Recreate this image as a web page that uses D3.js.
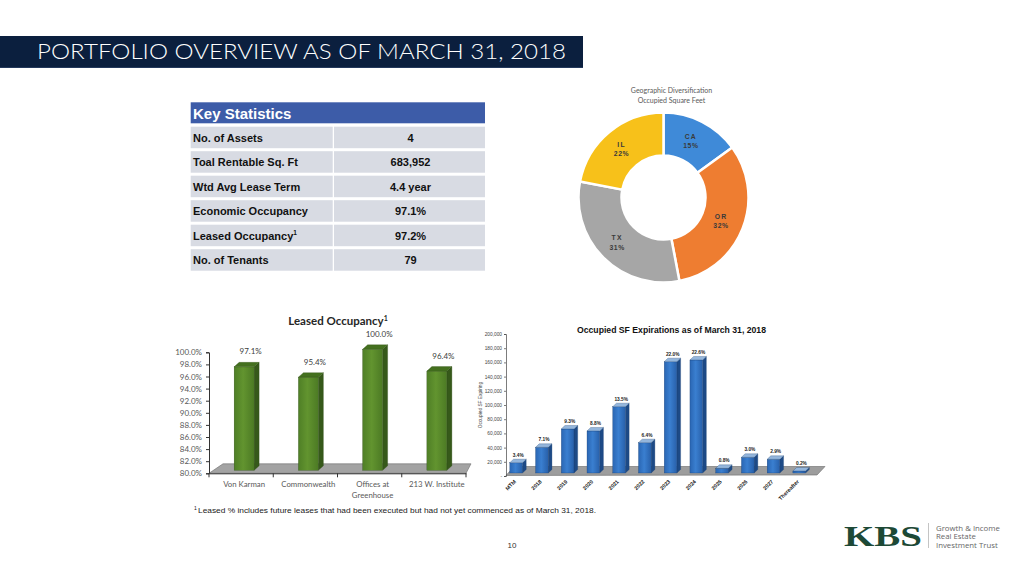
<!DOCTYPE html>
<html><head><meta charset="utf-8">
<script src="https://cdn.jsdelivr.net/npm/d3@7"></script>
<style>body{margin:0;background:#fff}svg{display:block}</style>
</head><body>
<svg id="c" width="1024" height="567"></svg>
<script>
// ---------- DATA ----------
const pageTitle = "PORTFOLIO OVERVIEW AS OF MARCH 31, 2018";
const statLabels = ["No. of Assets", "Toal Rentable Sq. Ft", "Wtd Avg Lease Term", "Economic Occupancy", "Leased Occupancy", "No. of Tenants"];
const statValues = ["4", "683,952", "4.4 year", "97.1%", "97.2%", "79"];
const geoStates = ["CA", "OR", "TX", "IL"];
const geoShares = [15, 32, 31, 22];
const geoColors = ["#3f8ad8", "#ee7d31", "#a6a6a6", "#f7c11a"];
const propNames = ["Von Karman", "Commonwealth", "Offices at Greenhouse", "213 W. Institute"];
const propLines = [["Von Karman"], ["Commonwealth"], ["Offices at", "Greenhouse"], ["213 W. Institute"]];
const leasedPct = [97.1, 95.4, 100.0, 96.4];
const leasedTicks = [80, 82, 84, 86, 88, 90, 92, 94, 96, 98, 100];
const expYears = ["MTM", "2018", "2019", "2020", "2021", "2022", "2023", "2024", "2025", "2026", "2027", "Thereafter"];
const expSF = [14500, 36200, 62000, 59200, 93400, 42700, 156800, 159200, 6600, 22100, 19300, 2800];
const expPctLabels = ["3.4%", "7.1%", "9.3%", "8.8%", "13.5%", "6.4%", "22.0%", "22.6%", "0.8%", "3.0%", "2.9%", "0.2%"];
const expTicks = [0, 20000, 40000, 60000, 80000, 100000, 120000, 140000, 160000, 180000, 200000];

// ---------- SETUP ----------
const svg = d3.select("#c");
svg.append("rect").attr("width", 1024).attr("height", 567).attr("fill", "#fff");
const defs = svg.append("defs");
function hgrad(id, stops) {
  const g = defs.append("linearGradient").attr("id", id).attr("x1", 0).attr("x2", 1).attr("y1", 0).attr("y2", 0);
  stops.forEach(s => g.append("stop").attr("offset", s[0]).attr("stop-color", s[1]));
}
hgrad("gGreen", [[0, "#4f7f26"], [0.45, "#62942f"], [1, "#4c7a24"]]);
hgrad("gBlue", [[0, "#2a66b3"], [0.45, "#3a7fd0"], [1, "#2860aa"]]);

// ---------- HEADER ----------
svg.append("rect").attr("x", 0).attr("y", 36).attr("width", 583).attr("height", 32).attr("fill", "#0b1f3e");
svg.append("line").attr("x1", 0).attr("x2", 583).attr("y1", 67.5).attr("y2", 67.5).attr("stroke", "#24395c").attr("stroke-width", 1);
svg.append("text").attr("x", 37).attr("y", 59.3).text(pageTitle)
  .attr("fill", "#fff").attr("font-family", "Lato, 'Open Sans', sans-serif").attr("font-weight", 300)
  .attr("font-size", 21).attr("textLength", 529).attr("lengthAdjust", "spacingAndGlyphs");

// ---------- KEY STATISTICS TABLE ----------
const tX = 190.7, tW1 = 142, tX2 = 334, tW2 = 151;
svg.append("rect").attr("x", tX).attr("y", 102.3).attr("width", 294.3).attr("height", 21).attr("fill", "#3d5ca8");
svg.append("text").attr("x", 193).attr("y", 119.4).text("Key Statistics")
  .attr("fill", "#fff").attr("font-family", "'Liberation Sans', Arial, sans-serif").attr("font-weight", "bold").attr("font-size", 15);
const rowY = d3.scaleLinear().domain([0, 1]).range([126.7, 151.2]);
const rows = svg.append("g").selectAll("g").data(statLabels).join("g");
rows.append("rect").attr("x", tX).attr("y", (d, i) => rowY(i)).attr("width", tW1).attr("height", 21.5).attr("fill", "#d8dbe3");
rows.append("rect").attr("x", tX2).attr("y", (d, i) => rowY(i)).attr("width", tW2).attr("height", 21.5).attr("fill", "#d8dbe3");
rows.append("text").attr("x", 193).attr("y", (d, i) => rowY(i) + 15)
  .attr("font-family", "'Liberation Sans', Arial, sans-serif").attr("font-weight", "bold").attr("font-size", 11).attr("fill", "#111")
  .each(function (d, i) {
    const t = d3.select(this);
    t.append("tspan").text(d);
    if (i === 4) t.append("tspan").text("1").attr("font-size", 6.5).attr("dy", -5);
  });
rows.append("text").attr("x", 410.5).attr("y", (d, i) => rowY(i) + 15).text((d, i) => statValues[i])
  .attr("text-anchor", "middle")
  .attr("font-family", "'Liberation Sans', Arial, sans-serif").attr("font-weight", "bold").attr("font-size", 11).attr("fill", "#111");

// ---------- DONUT ----------
const dcx = 663.5, dcy = 197.5;
const dg = svg.append("g").attr("transform", `translate(${dcx},${dcy})`);
svg.append("text").attr("x", 671.5).attr("y", 93).attr("text-anchor", "middle").text("Geographic Diversification")
  .attr("font-family", "Lato, sans-serif").attr("font-size", 7).attr("fill", "#595959");
svg.append("text").attr("x", 671.5).attr("y", 103).attr("text-anchor", "middle").text("Occupied Square Feet")
  .attr("font-family", "Lato, sans-serif").attr("font-size", 7).attr("fill", "#595959");
const pie = d3.pie().sort(null).value(d => d)(geoShares);
const arc = d3.arc().innerRadius(42).outerRadius(85);
dg.selectAll("path").data(pie).join("path").attr("d", arc)
  .attr("fill", (d, i) => geoColors[i]).attr("stroke", "#fff").attr("stroke-width", 2.5);
const lab = dg.selectAll("g.lab").data(pie).join("g").attr("class", "lab")
  .attr("transform", d => { const c = arc.centroid(d); return `translate(${c[0] - 1.5},${c[1] - 1})`; });
lab.append("text").attr("text-anchor", "middle").attr("y", -1).text((d, i) => geoStates[i])
  .attr("font-family", "'Liberation Sans', Arial, sans-serif").attr("font-weight", "bold").attr("font-size", 6.8)
  .attr("letter-spacing", 1.2).attr("fill", "#3a3a3a");
lab.append("text").attr("text-anchor", "middle").attr("y", 8.5).text(d => d.data + "%")
  .attr("font-family", "'Liberation Sans', Arial, sans-serif").attr("font-weight", "bold").attr("font-size", 6.8)
  .attr("letter-spacing", 0.6).attr("fill", "#3a3a3a");

// ---------- 3D bar helper ----------
function bar3d(g, x, yTop, yBot, w, dx, dy, front, side, top, stroke) {
  g.append("path").attr("d", `M${x + w},${yTop}L${x + w + dx},${yTop - dy}L${x + w + dx},${yBot - dy}L${x + w},${yBot}Z`)
    .attr("fill", side).attr("stroke", stroke).attr("stroke-width", 0.3);
  g.append("rect").attr("x", x).attr("y", yTop).attr("width", w).attr("height", Math.max(0.5, yBot - yTop))
    .attr("fill", front).attr("stroke", stroke).attr("stroke-width", 0.3);
  g.append("path").attr("d", `M${x},${yTop}L${x + dx},${yTop - dy}L${x + w + dx},${yTop - dy}L${x + w},${yTop}Z`)
    .attr("fill", top).attr("stroke", stroke).attr("stroke-width", 0.3);
}

// ---------- LEASED OCCUPANCY ----------
const lx = d3.scaleBand().domain(propNames).range([209, 466]);
const ly = d3.scaleLinear().domain([80, 100]).range([473.3, 352.3]);
const lg = svg.append("g");
lg.append("text").attr("x", 338).attr("y", 325).attr("text-anchor", "middle")
  .attr("font-family", "Lato, sans-serif").attr("font-weight", "bold").attr("font-size", 11.5).attr("fill", "#262626")
  .call(t => { t.append("tspan").text("Leased Occupancy"); t.append("tspan").text("1").attr("font-size", 7).attr("dy", -4.5); });
// floor
lg.append("path").attr("d", `M${lx.range()[0]},${ly(80)}L${lx.range()[1]},${ly(80)}L${lx.range()[1] + 5},${ly(80) - 9.5}L${lx.range()[0] + 14},${ly(80) - 9.5}Z`)
  .attr("fill", "#a3a3a3").attr("stroke", "#6d6d6d").attr("stroke-width", 0.6);
// y axis
const lAxis = lg.append("g").attr("transform", `translate(209,0)`)
  .call(d3.axisLeft(ly).tickValues(leasedTicks).tickFormat(d => d.toFixed(1) + "%").tickSize(3).tickPadding(4));
lAxis.select(".domain").attr("stroke", "#333");
lAxis.selectAll(".tick line").attr("stroke", "#333");
lAxis.selectAll("text").attr("font-family", "Lato, sans-serif").attr("font-size", 8).attr("fill", "#595959");
// x axis
const lxAxis = lg.append("g").attr("transform", `translate(0,${ly(80)})`)
  .call(d3.axisBottom(lx).tickSize(0).tickFormat(""));
lxAxis.select(".domain").attr("stroke", "#333");
lg.selectAll("line.div").data(d3.range(propNames.length + 1)).join("line").attr("class", "div")
  .attr("x1", i => lx.range()[0] + i * lx.step()).attr("x2", i => lx.range()[0] + i * lx.step())
  .attr("y1", ly(80)).attr("y2", ly(80) + 4).attr("stroke", "#333");
propNames.forEach((p, i) => {
  const fx = lx(p) + lx.bandwidth() / 2 - 7;
  const top = ly(leasedPct[i]) - 3, bot = ly(80) - 3;
  bar3d(lg, fx, top, bot, 20, 5, 4.5, "url(#gGreen)", "#36591a", "#44701f", "#2c4a14");
  lg.append("text").attr("x", fx + 16.5).attr("y", top - 12.5).attr("text-anchor", "middle").text(leasedPct[i].toFixed(1) + "%")
    .attr("font-family", "Lato, sans-serif").attr("font-size", 8).attr("fill", "#404040");
  propLines[i].forEach((ln, j) => {
    lg.append("text").attr("x", fx + 10).attr("y", 487 + j * 10.5).attr("text-anchor", "middle").text(ln)
      .attr("font-family", "Lato, sans-serif").attr("font-size", 7.8).attr("fill", "#595959");
  });
});
lAxis.raise();

// ---------- EXPIRATIONS ----------
const ex = d3.scaleBand().domain(expYears).range([506, 814.8]);
const ey = d3.scaleLinear().domain([0, 200000]).range([476, 334]);
const eg = svg.append("g");
eg.append("text").attr("x", 671.5).attr("y", 333.2).attr("text-anchor", "middle").text("Occupied SF Expirations as of March 31, 2018")
  .attr("font-family", "'Liberation Sans', Arial, sans-serif").attr("font-weight", "bold").attr("font-size", 9).attr("fill", "#111")
  .attr("textLength", 189).attr("lengthAdjust", "spacingAndGlyphs");
eg.append("path").attr("d", `M${ex.range()[0]},475.5L817,475L825,466.5L${ex.range()[0] + 8},466.5Z`)
  .attr("fill", "#9d9d9d").attr("stroke", "#6a6a6a").attr("stroke-width", 0.6);
const eAxis = eg.append("g").attr("transform", `translate(506,0)`)
  .call(d3.axisLeft(ey).tickValues(expTicks).tickFormat(d => d === 0 ? "-" : d3.format(",")(d)).tickSize(2).tickPadding(2));
eAxis.select(".domain").attr("stroke", "#444").attr("stroke-width", 0.7);
eAxis.selectAll(".tick line").attr("stroke", "#444").attr("stroke-width", 0.7);
eAxis.selectAll("text").attr("font-family", "'Liberation Sans', Arial, sans-serif").attr("font-size", 4.8).attr("fill", "#444");
eg.append("text").attr("transform", "translate(482,405) rotate(-90)").attr("text-anchor", "middle").text("Occupied SF Expiring")
  .attr("font-family", "'Liberation Sans', Arial, sans-serif").attr("font-size", 4.8).attr("fill", "#444");
expYears.forEach((yr, i) => {
  const fx = ex(yr) + ex.bandwidth() / 2 - 2.7 - 6.35;
  const top = ey(expSF[i]) - 3, bot = ey(0) - 3;
  bar3d(eg, fx, top, bot, 12.7, 3.7, 3.5, "url(#gBlue)", "#1d4a86", "#94b6dc", "#1a3f70");
  eg.append("text").attr("x", fx + 8.5).attr("y", top - 6).attr("text-anchor", "middle").text(expPctLabels[i])
    .attr("font-family", "'Liberation Sans', Arial, sans-serif").attr("font-weight", "bold").attr("font-size", 4.8).attr("fill", "#222");
  eg.append("text").attr("transform", `translate(${fx + 6.5},${482}) rotate(-45)`).attr("text-anchor", "end").text(yr)
    .attr("font-family", "'Liberation Sans', Arial, sans-serif").attr("font-weight", "bold").attr("font-size", 5.4).attr("fill", "#222");
});

// ---------- FOOTNOTE, PAGE NUMBER ----------
svg.append("text").attr("x", 194).attr("y", 510).attr("font-family", "'Liberation Sans', Arial, sans-serif").attr("fill", "#1a1a1a")
  .attr("font-size", 5).text("1");
svg.append("text").attr("x", 198).attr("y", 513).attr("font-family", "'Liberation Sans', Arial, sans-serif").attr("fill", "#1a1a1a")
  .attr("font-size", 8).attr("textLength", 398).attr("lengthAdjust", "spacingAndGlyphs")
  .text("Leased % includes future leases that had been executed but had not yet commenced as of March 31, 2018.");
svg.append("text").attr("x", 512).attr("y", 548).attr("text-anchor", "middle").text("10")
  .attr("font-family", "'Liberation Sans', Arial, sans-serif").attr("font-size", 8).attr("fill", "#333");

// ---------- LOGO ----------
svg.append("text").attr("x", 844).attr("y", 546).text("KBS")
  .attr("font-family", "'Liberation Serif', 'DejaVu Serif', serif").attr("font-weight", "bold").attr("font-size", 29)
  .attr("fill", "#1d4936").attr("textLength", 78).attr("lengthAdjust", "spacingAndGlyphs");
svg.append("line").attr("x1", 928.5).attr("x2", 928.5).attr("y1", 523).attr("y2", 548).attr("stroke", "#b5b5b5").attr("stroke-width", 0.8);
["Growth & Income", "Real Estate", "Investment Trust"].forEach((s, i) => {
  svg.append("text").attr("x", 936).attr("y", 530.5 + i * 8.5).text(s)
    .attr("font-family", "'Open Sans', sans-serif").attr("font-size", 7.8).attr("fill", "#666");
});
</script>
</body></html>
